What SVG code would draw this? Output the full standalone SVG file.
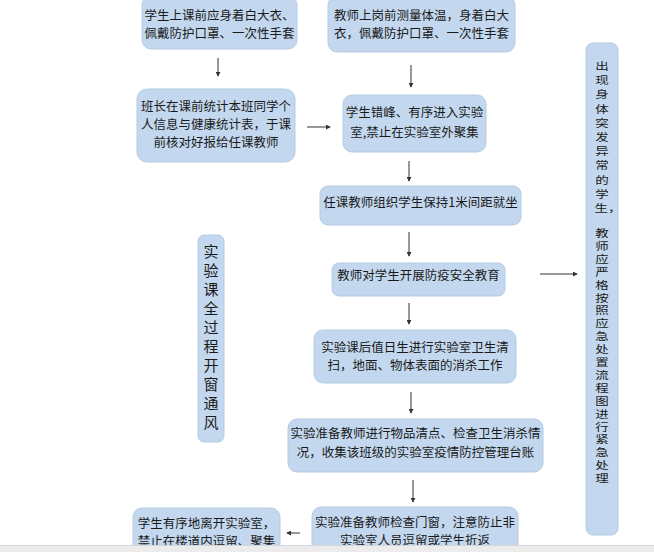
<svg xmlns="http://www.w3.org/2000/svg" width="654" height="552" viewBox="0 0 654 552">
<defs>
<style>
.b{fill:#c3d8ee;stroke:#b4cbe4;stroke-width:1}
.t{font-family:"Noto Sans CJK SC","Noto Sans",sans-serif;font-size:12.5px;fill:#1a1a1a;text-anchor:middle}
.v{font-family:"Noto Sans CJK SC","Noto Sans",sans-serif;font-size:15px;fill:#1a1a1a;text-anchor:middle}
.r{font-family:"Noto Sans CJK SC","Noto Sans",sans-serif;font-size:13.5px;fill:#1a1a1a;text-anchor:middle}
.c{stroke:#333;stroke-width:1;fill:none;marker-end:url(#ah)}
</style>
<marker id="ah" viewBox="0 0 6 6" refX="5" refY="3" markerWidth="5" markerHeight="5" orient="auto">
<path d="M0,0L6,3L0,6z" fill="#333"/>
</marker>
</defs>
<rect width="654" height="552" fill="#ffffff"/>
<g id="n1"><rect class="b" x="142" y="-4" width="155" height="53" rx="9"/>
<text class="t" x="219.5" y="20">学生上课前应身着白大衣、</text>
<text class="t" x="219.5" y="38">佩戴防护口罩、一次性手套</text></g>
<g id="n2"><rect class="b" x="328" y="-4" width="187" height="56" rx="9"/>
<text class="t" x="421.5" y="20">教师上岗前测量体温，身着白大</text>
<text class="t" x="421.5" y="38">衣，佩戴防护口罩、一次性手套</text></g>
<g id="n3"><rect class="b" x="137" y="89" width="158" height="73" rx="10"/>
<text class="t" x="216" y="111">班长在课前统计本班同学个</text>
<text class="t" x="216" y="129">人信息与健康统计表，于课</text>
<text class="t" x="216" y="147">前核对好报给任课教师</text></g>
<g id="n4"><rect class="b" x="343" y="95" width="143" height="57" rx="9"/>
<text class="t" x="414.5" y="117">学生错峰、有序进入实验</text>
<text class="t" x="414.5" y="137">室,禁止在实验室外聚集</text></g>
<g id="n5"><rect class="b" x="320" y="186" width="201" height="39" rx="8"/>
<text class="t" x="420.5" y="207">任课教师组织学生保持1米间距就坐</text></g>
<g id="n6"><rect class="b" x="332" y="263" width="173" height="33" rx="7"/>
<text class="t" x="418.5" y="280">教师对学生开展防疫安全教育</text></g>
<g id="n7"><rect class="b" x="314" y="330" width="202" height="53" rx="9"/>
<text class="t" x="415" y="352">实验课后值日生进行实验室卫生清</text>
<text class="t" x="415" y="370">扫，地面、物体表面的消杀工作</text></g>
<g id="n8"><rect class="b" x="288" y="419" width="255" height="53" rx="9"/>
<text class="t" x="415.5" y="438">实验准备教师进行物品清点、检查卫生消杀情</text>
<text class="t" x="415.5" y="457">况，收集该班级的实验室疫情防控管理台账</text></g>
<g id="n9"><rect class="b" x="312" y="507" width="206" height="50" rx="9"/>
<text class="t" x="415" y="527">实验准备教师检查门窗，注意防止非</text>
<text class="t" x="415" y="545">实验室人员逗留或学生折返</text></g>
<g id="n10"><rect class="b" x="133" y="508" width="147" height="50" rx="9"/>
<text class="t" x="206.5" y="528">学生有序地离开实验室，</text>
<text class="t" x="206.5" y="546">禁止在楼道内逗留、聚集</text></g>
<g id="n11"><rect class="b" x="198" y="235" width="26" height="207" rx="6"/>
<g class="v">
<text x="211" y="257">实</text><text x="211" y="276">验</text><text x="211" y="295">课</text><text x="211" y="314">全</text><text x="211" y="333">过</text><text x="211" y="352">程</text><text x="211" y="371">开</text><text x="211" y="390">窗</text><text x="211" y="409">通</text><text x="211" y="428">风</text>
</g></g>
<g id="n12"><rect class="b" x="586" y="43" width="32" height="492" rx="7"/>
<g class="r">
<text transform="translate(602,70) scale(1,0.75)">出</text>
<text transform="translate(602,84.2) scale(1,0.75)">现</text>
<text transform="translate(602,98.4) scale(1,0.75)">身</text>
<text transform="translate(602,112.6) scale(1,0.75)">体</text>
<text transform="translate(602,126.8) scale(1,0.75)">突</text>
<text transform="translate(602,141) scale(1,0.75)">发</text>
<text transform="translate(602,155.2) scale(1,0.75)">异</text>
<text transform="translate(602,169.4) scale(1,0.75)">常</text>
<text transform="translate(602,183.6) scale(1,0.75)">的</text>
<text transform="translate(602,197.8) scale(1,0.75)">学</text>
<text transform="translate(608,212) scale(1,0.75)">生，</text>
<text transform="translate(602,237) scale(1,0.75)">教</text>
<text transform="translate(602,249.9) scale(1,0.75)">师</text>
<text transform="translate(602,262.8) scale(1,0.75)">应</text>
<text transform="translate(602,275.7) scale(1,0.75)">严</text>
<text transform="translate(602,288.6) scale(1,0.75)">格</text>
<text transform="translate(602,301.5) scale(1,0.75)">按</text>
<text transform="translate(602,314.4) scale(1,0.75)">照</text>
<text transform="translate(602,327.3) scale(1,0.75)">应</text>
<text transform="translate(602,340.2) scale(1,0.75)">急</text>
<text transform="translate(602,353.1) scale(1,0.75)">处</text>
<text transform="translate(602,366) scale(1,0.75)">置</text>
<text transform="translate(602,378.9) scale(1,0.75)">流</text>
<text transform="translate(602,391.8) scale(1,0.75)">程</text>
<text transform="translate(602,404.7) scale(1,0.75)">图</text>
<text transform="translate(602,417.6) scale(1,0.75)">进</text>
<text transform="translate(602,430.5) scale(1,0.75)">行</text>
<text transform="translate(602,443.4) scale(1,0.75)">紧</text>
<text transform="translate(602,456.3) scale(1,0.75)">急</text>
<text transform="translate(602,469.2) scale(1,0.75)">处</text>
<text transform="translate(602,482.1) scale(1,0.75)">理</text>
</g></g>
<g id="connectors">
<line class="c" x1="218" y1="58" x2="218" y2="76"/>
<line class="c" x1="411" y1="65" x2="411" y2="87"/>
<line class="c" x1="307" y1="127" x2="330" y2="127"/>
<line class="c" x1="409" y1="161" x2="409" y2="181"/>
<line class="c" x1="409" y1="232" x2="409" y2="256"/>
<line class="c" x1="409" y1="303" x2="409" y2="324"/>
<line class="c" x1="411" y1="392" x2="411" y2="413"/>
<line class="c" x1="413" y1="480" x2="413" y2="502"/>
<line class="c" x1="540" y1="274" x2="577" y2="274"/>
<line class="c" x1="300" y1="533" x2="287" y2="533"/>
</g>
<rect x="0" y="545" width="654" height="7" fill="#ececec"/>
<line x1="0" y1="545.5" x2="654" y2="545.5" stroke="#d6d6d6"/>
</svg>
